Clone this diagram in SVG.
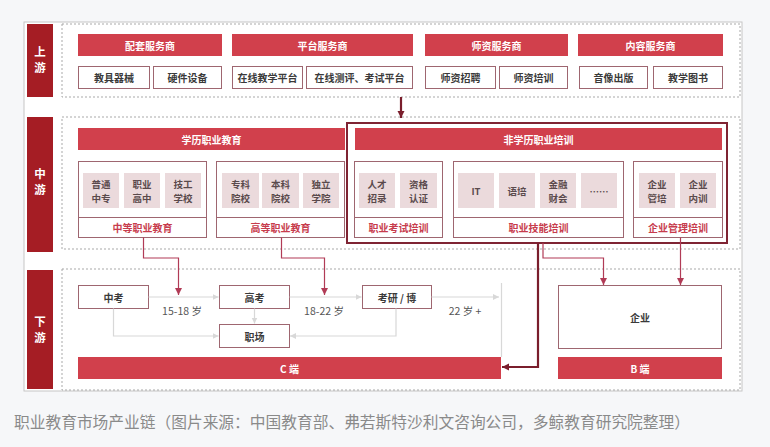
<svg xmlns="http://www.w3.org/2000/svg" width="770" height="447" viewBox="0 0 770 447">
<defs>
<style>
text{font-family:"Noto Sans CJK SC","Noto Sans",sans-serif;text-anchor:middle;dominant-baseline:central}
.side{fill:#a51d24}
.sideT{fill:#fff;font-size:11.5px;font-weight:700}
.sec{fill:none;stroke:#a9a9a9;stroke-width:1;stroke-dasharray:2 2}
.hdr{fill:#d1404c}
.hdrT{fill:#fff;font-size:10px;font-weight:700}
.sub{fill:#fff;stroke:#9e6670;stroke-width:1}
.subT{fill:#3a3a3a;font-size:10px;font-weight:700}
.tile{fill:#ebdadc}
.tileT{fill:#5a4a4c;font-size:9.5px;font-weight:700}
.foot{fill:#c73c4d;font-size:10px;font-weight:700}
.lbl{fill:#555;font-size:10.5px}
.gray{fill:none;stroke:#d8d8d8;stroke-width:1.2}
.red{fill:none;stroke:#b13b56;stroke-width:1.2}
.dark{fill:none;stroke:#7a1e2c;stroke-width:2.2}
</style>
<marker id="ag" markerWidth="7" markerHeight="7" refX="6" refY="3.5" orient="auto" markerUnits="userSpaceOnUse"><path d="M0,0.5 L6,3.5 L0,6.5 Z" fill="#d8d8d8"/></marker>
<marker id="ar" markerWidth="8" markerHeight="8" refX="7" refY="4" orient="auto" markerUnits="userSpaceOnUse"><path d="M0,0.5 L7,4 L0,7.5 Z" fill="#b13b56"/></marker>
<marker id="ad" markerWidth="8" markerHeight="8" refX="7" refY="4" orient="auto" markerUnits="userSpaceOnUse"><path d="M0,0.5 L7,4 L0,7.5 Z" fill="#7a1e2c"/></marker>
</defs>
<rect x="0" y="0" width="770" height="447" fill="#f6f7f9"/>
<rect x="24" y="22" width="718" height="369" fill="#fff" stroke="#c6c6c6" stroke-width="1"/>

<g id="side-labels">
<rect class="side" x="27" y="24" width="26" height="73"/>
<text class="sideT" x="40" y="51">上</text><text class="sideT" x="40" y="67">游</text>
<rect class="side" x="27" y="117" width="26" height="135"/>
<text class="sideT" x="40" y="173">中</text><text class="sideT" x="40" y="189">游</text>
<rect class="side" x="27" y="270" width="26" height="119"/>
<text class="sideT" x="40" y="321">下</text><text class="sideT" x="40" y="337">游</text>
</g>

<g id="sections">
<rect class="sec" x="62" y="24" width="678" height="73"/>
<rect class="sec" x="62" y="117" width="678" height="132"/>
<rect class="sec" x="62" y="269" width="678" height="121"/>
</g>

<g id="upstream">
<g id="peitao"><rect class="hdr" x="78" y="34" width="144" height="22"/><text class="hdrT" x="150" y="45">配套服务商</text></g>
<g id="pingtai"><rect class="hdr" x="232" y="34" width="181" height="22"/><text class="hdrT" x="322.5" y="45">平台服务商</text></g>
<g id="shizi"><rect class="hdr" x="425" y="34" width="143" height="22"/><text class="hdrT" x="496.5" y="45">师资服务商</text></g>
<g id="neirong"><rect class="hdr" x="578" y="34" width="145" height="22"/><text class="hdrT" x="650.5" y="45">内容服务商</text></g>
<g id="jiaoju"><rect class="sub" x="78.5" y="66.5" width="71" height="22"/><text class="subT" x="114" y="77.5">教具器械</text></g>
<g id="yingjian"><rect class="sub" x="153.5" y="66.5" width="68" height="22"/><text class="subT" x="187.5" y="77.5">硬件设备</text></g>
<g id="zaixianjiaoxue"><rect class="sub" x="232.5" y="66.5" width="70" height="22"/><text class="subT" x="267.5" y="77.5">在线教学平台</text></g>
<g id="zaixiancep"><rect class="sub" x="306.5" y="66.5" width="106" height="22"/><text class="subT" x="359.5" y="77.5">在线测评、考试平台</text></g>
<g id="shizizhaopin"><rect class="sub" x="425.5" y="66.5" width="70" height="22"/><text class="subT" x="460.5" y="77.5">师资招聘</text></g>
<g id="shizipeixun"><rect class="sub" x="499.5" y="66.5" width="68" height="22"/><text class="subT" x="533.5" y="77.5">师资培训</text></g>
<g id="yinxiang"><rect class="sub" x="579.5" y="66.5" width="68" height="22"/><text class="subT" x="613.5" y="77.5">音像出版</text></g>
<g id="tushu"><rect class="sub" x="653.5" y="66.5" width="69" height="22"/><text class="subT" x="688" y="77.5">教学图书</text></g>
</g>

<g id="midstream">
<g id="xueli"><rect class="hdr" x="78" y="128" width="267" height="22"/><text class="hdrT" x="211.5" y="139">学历职业教育</text></g>
<g id="zhongdeng">
<rect class="sub" x="78.5" y="161.5" width="128" height="76"/><line x1="78.5" y1="217.5" x2="206.5" y2="217.5" stroke="#9e6670"/>
<rect class="tile" x="83" y="173" width="36" height="35"/><text class="tileT" x="101" y="183.5">普通</text><text class="tileT" x="101" y="198">中专</text>
<rect class="tile" x="124" y="173" width="36" height="35"/><text class="tileT" x="142" y="183.5">职业</text><text class="tileT" x="142" y="198">高中</text>
<rect class="tile" x="165" y="173" width="36" height="35"/><text class="tileT" x="183" y="183.5">技工</text><text class="tileT" x="183" y="198">学校</text>
<text class="foot" x="142.5" y="227.5">中等职业教育</text>
</g>
<g id="gaodeng">
<rect class="sub" x="216.5" y="161.5" width="128" height="76"/><line x1="216.5" y1="217.5" x2="344.5" y2="217.5" stroke="#9e6670"/>
<rect class="tile" x="222" y="173" width="37" height="35"/><text class="tileT" x="240.5" y="183.5">专科</text><text class="tileT" x="240.5" y="198">院校</text>
<rect class="tile" x="262" y="173" width="37" height="35"/><text class="tileT" x="280.5" y="183.5">本科</text><text class="tileT" x="280.5" y="198">院校</text>
<rect class="tile" x="303" y="173" width="36" height="35"/><text class="tileT" x="321" y="183.5">独立</text><text class="tileT" x="321" y="198">学院</text>
<text class="foot" x="280.5" y="227.5">高等职业教育</text>
</g>
<g id="feixueli">
<rect x="347" y="123" width="380" height="120" fill="none" stroke="#7f2433" stroke-width="2"/>
<rect class="hdr" x="355" y="128" width="367" height="22"/><text class="hdrT" x="538.5" y="139">非学历职业培训</text>
</g>
<g id="kaoshi">
<rect class="sub" x="354.5" y="161.5" width="88" height="76"/><line x1="354.5" y1="217.5" x2="442.5" y2="217.5" stroke="#9e6670"/>
<rect class="tile" x="359" y="173" width="36" height="35"/><text class="tileT" x="377" y="183.5">人才</text><text class="tileT" x="377" y="198">招录</text>
<rect class="tile" x="400" y="173" width="37" height="35"/><text class="tileT" x="418.5" y="183.5">资格</text><text class="tileT" x="418.5" y="198">认证</text>
<text class="foot" x="398.5" y="227.5">职业考试培训</text>
</g>
<g id="jineng">
<rect class="sub" x="453.5" y="161.5" width="170" height="76"/><line x1="453.5" y1="217.5" x2="623.5" y2="217.5" stroke="#9e6670"/>
<rect class="tile" x="458" y="173" width="36" height="35"/><text class="tileT" x="476" y="191">IT</text>
<rect class="tile" x="499" y="173" width="36" height="35"/><text class="tileT" x="517" y="191">语培</text>
<rect class="tile" x="540" y="173" width="36" height="35"/><text class="tileT" x="558" y="183.5">金融</text><text class="tileT" x="558" y="198">财会</text>
<rect class="tile" x="581" y="173" width="36" height="35"/><text class="tileT" x="599" y="191">……</text>
<text class="foot" x="538.5" y="227.5">职业技能培训</text>
</g>
<g id="qiyeguanli">
<rect class="sub" x="633.5" y="161.5" width="89" height="76"/><line x1="633.5" y1="217.5" x2="722.5" y2="217.5" stroke="#9e6670"/>
<rect class="tile" x="639" y="173" width="36" height="35"/><text class="tileT" x="657" y="183.5">企业</text><text class="tileT" x="657" y="198">管培</text>
<rect class="tile" x="680" y="173" width="36" height="35"/><text class="tileT" x="698" y="183.5">企业</text><text class="tileT" x="698" y="198">内训</text>
<text class="foot" x="678" y="227.5">企业管理培训</text>
</g>
</g>

<g id="downstream">
<g id="zhongkao"><rect class="sub" x="78.5" y="285.5" width="70" height="23"/><text class="subT" x="113.5" y="297">中考</text></g>
<g id="gaokao"><rect class="sub" x="219.5" y="285.5" width="70" height="23"/><text class="subT" x="254.5" y="297">高考</text></g>
<g id="kaoyan"><rect class="sub" x="362.5" y="285.5" width="69" height="23"/><text class="subT" x="397" y="297">考研 / 博</text></g>
<g id="zhichang"><rect class="sub" x="219.5" y="324.5" width="70" height="23"/><text class="subT" x="254.5" y="336">职场</text></g>
<g id="cduan"><rect class="hdr" x="78" y="357" width="423" height="22"/><text class="hdrT" x="289.5" y="368">C 端</text></g>
<g id="qiye"><rect class="sub" x="558.5" y="285.5" width="163" height="63"/><text class="subT" x="640" y="317">企业</text></g>
<g id="bduan"><rect class="hdr" x="558" y="357" width="164" height="22"/><text class="hdrT" x="640" y="368">B 端</text></g>
<text class="lbl" x="182" y="310">15-18 岁</text>
<text class="lbl" x="324" y="310">18-22 岁</text>
<text class="lbl" x="465" y="310">22 岁 +</text>
</g>

<g id="connectors">
<path class="gray" d="M148.5,297 H218.5" marker-end="url(#ag)"/>
<path class="gray" d="M289.5,297 H361.5" marker-end="url(#ag)"/>
<path class="gray" d="M431.5,297 H499" marker-end="url(#ag)"/>
<path class="gray" d="M501.5,283 V357"/>
<path class="gray" d="M113.5,308.5 V336 H218.5" marker-end="url(#ag)"/>
<path class="gray" d="M254.5,308.5 V323.5" marker-end="url(#ag)"/>
<path class="gray" d="M396,308.5 V336 H290" marker-end="url(#ag)"/>
<path class="red" d="M143.5,237.5 V258 H178.5 V295" marker-end="url(#ar)"/>
<path class="red" d="M281.5,237.5 V258 H324.5 V295" marker-end="url(#ar)"/>
<path class="red" d="M543,243 V258 H603.5 V285" marker-end="url(#ar)"/>
<path class="red" d="M680.5,237.5 V285" marker-end="url(#ar)"/>
<path class="dark" d="M538,243 V367 H502" marker-end="url(#ad)"/>
<path class="dark" d="M401,97 V118" stroke-width="1.8" marker-end="url(#ad)"/>
</g>

<text x="14" y="421" style="text-anchor:start;font-size:15.5px;fill:#8a8a8a" textLength="676" lengthAdjust="spacingAndGlyphs">职业教育市场产业链（图片来源：中国教育部、弗若斯特沙利文咨询公司，多鲸教育研究院整理）</text>
</svg>
